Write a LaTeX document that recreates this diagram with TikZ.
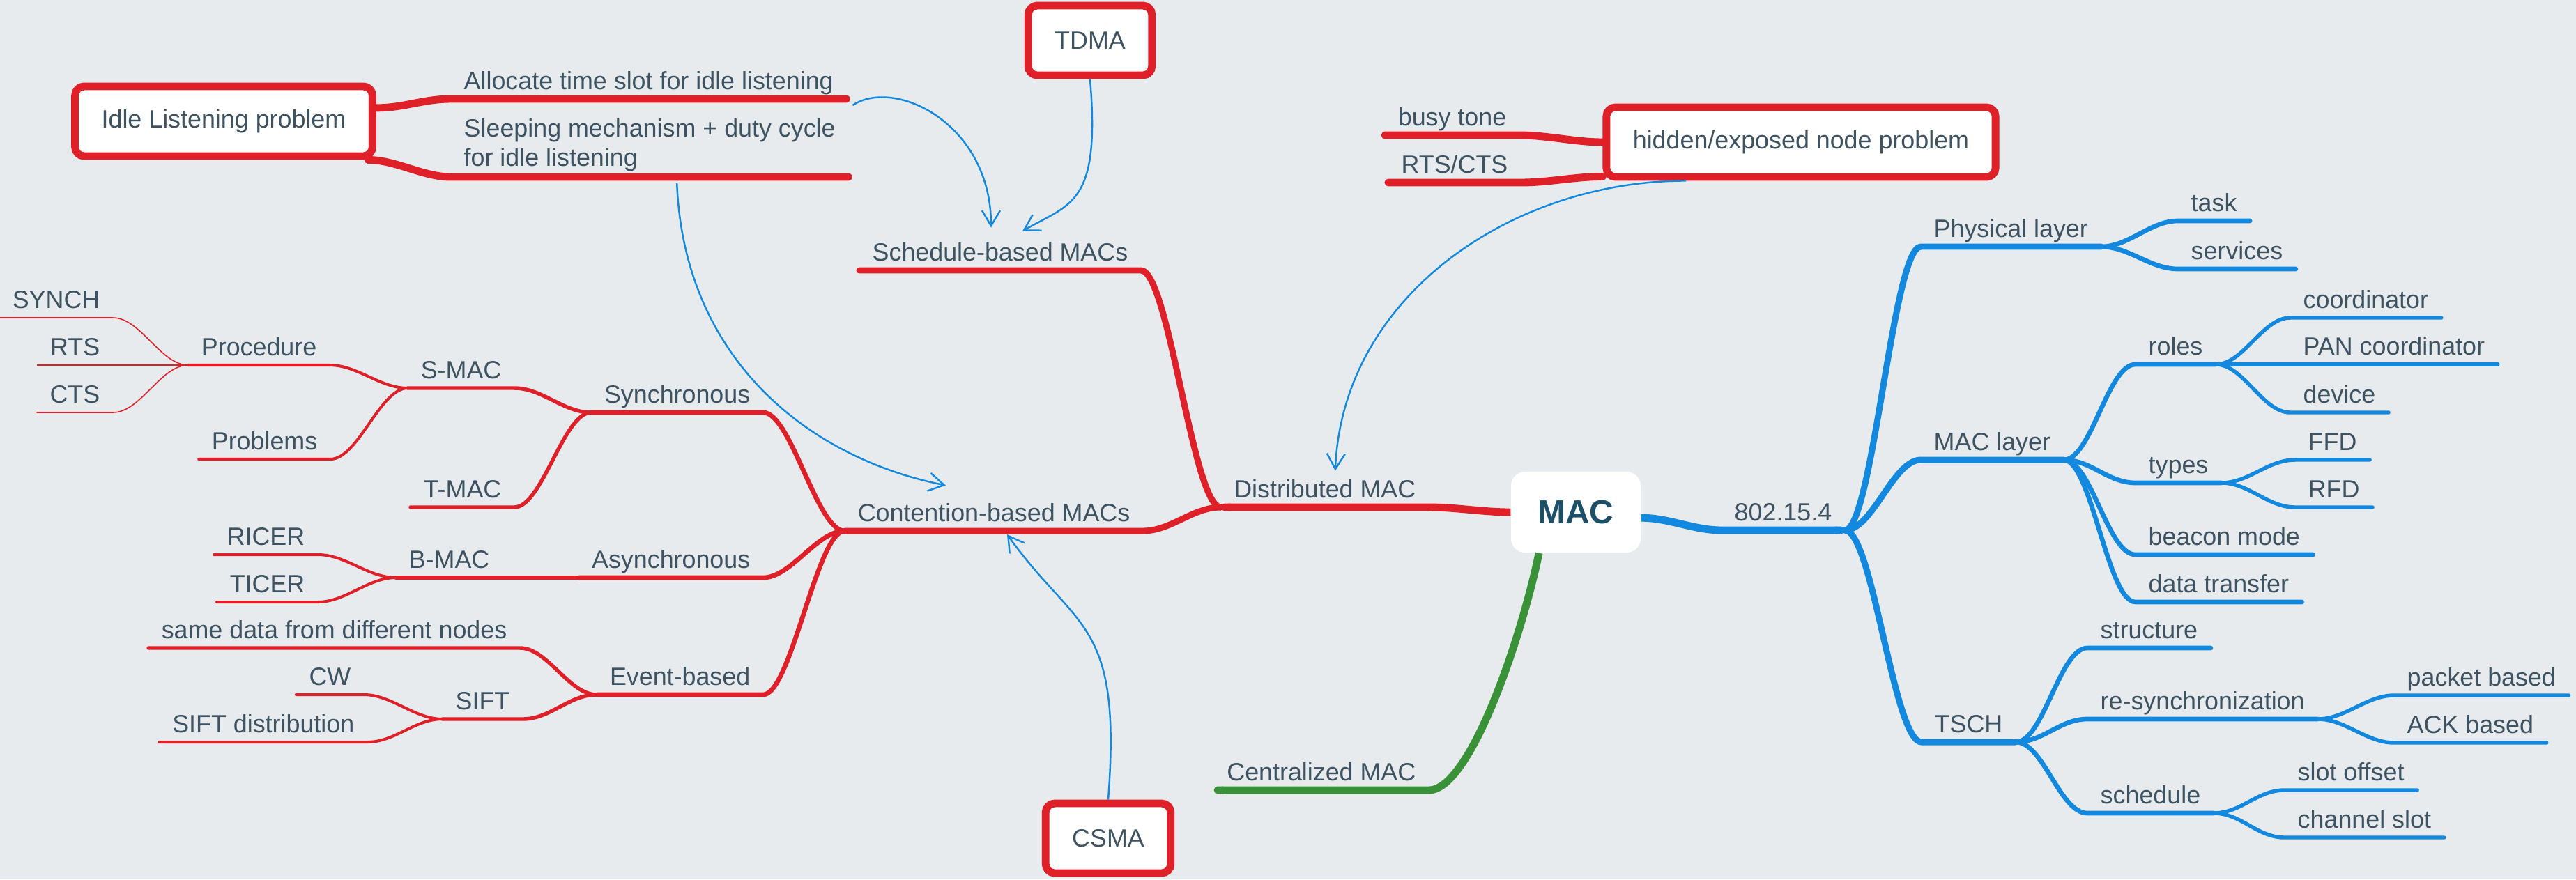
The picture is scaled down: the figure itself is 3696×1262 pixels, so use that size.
\documentclass[tikz,border=0pt]{standalone}
\usepackage{fontspec}
\setmainfont{Liberation Sans}
\usetikzlibrary{arrows.meta}

\definecolor{bgcol}{HTML}{E7EBEE}
\definecolor{txtcol}{HTML}{3E5361}
\definecolor{maccol}{HTML}{1B5068}
\definecolor{redcol}{HTML}{DF2029}
\definecolor{bluecol}{HTML}{1289DE}
\definecolor{greencol}{HTML}{3A9238}

\tikzset{
	topic/.style = {font=\fontsize{10.2}{12}\selectfont, text=txtcol,
		inner xsep=1.8mm, inner ysep=0.4mm, text height=2.6mm, text depth=0.9mm},
	ltopic/.style = {topic, anchor=south east},
	rtopic/.style = {topic, anchor=south west},
	multi/.style = {font=\fontsize{10.2}{12}\selectfont, text=txtcol,
		inner xsep=1.8mm, inner ysep=0.7mm, align=left, anchor=south west},
	probbox/.style = {draw=redcol, line width=3.1pt, fill=white, rounded corners=1.3mm,
		inner xsep=3.8mm, minimum height=10mm, font=\fontsize{10.2}{12}\selectfont, text=txtcol},
	macbox/.style = {fill=white, rounded corners=2mm, minimum width=18.6mm,
		minimum height=11.6mm, font=\bfseries\fontsize{13.6}{16}\selectfont, text=maccol},
	rlink/.style = {to path={.. controls +(40,0) and +(-40,0) .. (\tikztotarget)}},
	llink/.style = {to path={.. controls +(-40,0) and +(40,0) .. (\tikztotarget)}},
	rd/.style = {draw=redcol, line cap=round},
	bl/.style = {draw=bluecol, line cap=round},
	gr/.style = {draw=greencol, line cap=round},
	lw1/.style = {line width=3.1pt},
	lw2/.style = {line width=2.55pt},
	lw3/.style = {line width=1.9pt},
	lw4/.style = {line width=1.55pt},
	lw5/.style = {line width=1.15pt},
	lw6/.style = {line width=0.45pt},
	rel/.style = {draw=bluecol, line width=0.7pt, -{Straight Barb[length=2.2mm,width=2.6mm]}}
}

\begin{document}
\begin{tikzpicture}[x=0.1mm, y=-0.1mm]
% canvas
\fill[bgcol] (0,0) rectangle (3696,1262);
\useasboundingbox (0,0) rectangle (3696,1262);

% central topic and problem boxes
\node[macbox] (mac) at (2261,735) {MAC};
\node[probbox] (idle) at (321,174) {Idle Listening problem};
\node[probbox] (tdma) at (1564,58) {TDMA};
\node[probbox] (csma) at (1590,1203) {CSMA};
\node[probbox] (hidden) at (2584,204) {hidden/exposed node problem};

% left side
\node[ltopic] (dist) at (2050,728) {Distributed MAC};
\node[ltopic] (centr) at (2050,1134) {Centralized MAC};
\node[ltopic] (sched) at (1637,388) {Schedule-based MACs};
\node[ltopic] (conten) at (1640,762) {Contention-based MACs};
\node[ltopic] (sync) at (1095,592) {Synchronous};
\node[ltopic] (async) at (1095,829) {Asynchronous};
\node[ltopic] (event) at (1095,997) {Event-based};
\node[ltopic] (smac) at (738,557) {S-MAC};
\node[ltopic] (tmac) at (738,728) {T-MAC};
\node[ltopic] (bmac) at (721,829) {B-MAC};
\node[ltopic] (samedata) at (746,930) {same data from different nodes};
\node[ltopic] (sift) at (750,1032) {SIFT};
\node[ltopic] (proc) at (473,524) {Procedure};
\node[ltopic] (probl) at (474,659) {Problems};
\node[ltopic] (ricer) at (456,796) {RICER};
\node[ltopic] (ticer) at (456,864) {TICER};
\node[ltopic] (cw) at (522,997) {CW};
\node[ltopic] (siftdist) at (527,1065) {SIFT distribution};
\node[ltopic] (synch) at (162,456) {SYNCH};
\node[ltopic] (rts) at (162,524) {RTS};
\node[ltopic] (cts) at (162,592) {CTS};

% problem topics
\node[rtopic] (alloc) at (647,142) {Allocate time slot for idle listening};
\node[multi] (sleep) at (647,254) {Sleeping mechanism + duty cycle\\for idle listening};
\node[ltopic] (busy) at (2180,194) {busy tone};
\node[ltopic] (rtscts) at (2182,262) {RTS/CTS};

% right side
\node[rtopic] (ieee) at (2470,761) {802.15.4};
\node[rtopic] (phy) at (2756,354) {Physical layer};
\node[rtopic] (maclay) at (2756,660) {MAC layer};
\node[rtopic] (tsch) at (2757,1065) {TSCH};
\node[rtopic] (task) at (3125,317) {task};
\node[rtopic] (serv) at (3125,386) {services};
\node[rtopic] (roles) at (3064,523) {roles};
\node[rtopic] (types) at (3064,693) {types};
\node[rtopic] (beacon) at (3064,796) {beacon mode};
\node[rtopic] (datatr) at (3064,864) {data transfer};
\node[rtopic] (coord) at (3286,456) {coordinator};
\node[rtopic] (pan) at (3286,523) {PAN coordinator};
\node[rtopic] (device) at (3286,592) {device};
\node[rtopic] (ffd) at (3293,660) {FFD};
\node[rtopic] (rfd) at (3293,728) {RFD};
\node[rtopic] (struct) at (2995,930) {structure};
\node[rtopic] (resync) at (2995,1032) {re-synchronization};
\node[rtopic] (sched2) at (2995,1167) {schedule};
\node[rtopic] (packet) at (3435,998) {packet based};
\node[rtopic] (ack) at (3435,1066) {ACK based};
\node[rtopic] (slotoff) at (3278,1134) {slot offset};
\node[rtopic] (chslot) at (3278,1202) {channel slot};

% red branches
\draw[rd, lw1, line cap=butt, -{Round Cap}] (mac.west) to[llink] (dist.south east) -- (dist.south west);
\draw[rd, lw2] (dist.south west) to[llink] (sched.south east) -- (sched.south west);
\draw[rd, lw2] (dist.south west) to[llink] (conten.south east) -- (conten.south west);
\draw[rd, lw3] (conten.south west) to[llink] (sync.south east) -- (sync.south west);
\draw[rd, lw3] (conten.south west) to[llink] (async.south east) -- (async.south west);
\draw[rd, lw3] (conten.south west) to[llink] (event.south east) -- (event.south west);
\draw[rd, lw4] (sync.south west) to[llink] (smac.south east) -- (smac.south west);
\draw[rd, lw4] (sync.south west) to[llink] (tmac.south east) -- (tmac.south west);
\draw[rd, lw4] (async.south west) to[llink] (bmac.south east) -- (bmac.south west);
\draw[rd, lw4] (event.south west) to[llink] (samedata.south east) -- (samedata.south west);
\draw[rd, lw4] (event.south west) to[llink] (sift.south east) -- (sift.south west);
\draw[rd, lw5] (smac.south west) to[llink] (proc.south east) -- (proc.south west);
\draw[rd, lw5] (smac.south west) to[llink] (probl.south east) -- (probl.south west);
\draw[rd, lw5] (bmac.south west) to[llink] (ricer.south east) -- (ricer.south west);
\draw[rd, lw5] (bmac.south west) to[llink] (ticer.south east) -- (ticer.south west);
\draw[rd, lw5] (sift.south west) to[llink] (cw.south east) -- (cw.south west);
\draw[rd, lw5] (sift.south west) to[llink] (siftdist.south east) -- (siftdist.south west);
\draw[rd, lw6] (proc.south west) to[llink] (synch.south east) -- (synch.south west);
\draw[rd, lw6] (proc.south west) to[llink] (rts.south east) -- (rts.south west);
\draw[rd, lw6] (proc.south west) to[llink] (cts.south east) -- (cts.south west);

% problem branches
\draw[rd, lw1] (idle.5) to[rlink] (alloc.south west) -- (alloc.south east);
\draw[rd, lw1] (idle.-15) to[rlink] (sleep.south west) -- (sleep.south east);
\draw[rd, lw1] (hidden.west) to[llink] (busy.south east) -- (busy.south west);
\draw[rd, lw1] ([yshift=0.6mm]hidden.south west) to[llink] (rtscts.south east) -- (rtscts.south west);

% green branch
\draw[gr, lw1, line cap=butt, -{Round Cap}] (mac.228) .. controls +(-25,120) and +(60,0) .. (centr.south east) -- (centr.south west);

% blue branches
\draw[bl, lw1, line cap=butt, -{Round Cap}] (mac.-5) to[rlink] (ieee.south west) -- (ieee.south east);
\draw[bl, lw2] (ieee.south east) to[rlink] (phy.south west) -- (phy.south east);
\draw[bl, lw2] (ieee.south east) to[rlink] (maclay.south west) -- (maclay.south east);
\draw[bl, lw2] (ieee.south east) to[rlink] (tsch.south west) -- (tsch.south east);
\draw[bl, lw3] (phy.south east) to[rlink] (task.south west) -- (task.south east);
\draw[bl, lw3] (phy.south east) to[rlink] (serv.south west) -- (serv.south east);
\draw[bl, lw3] (maclay.south east) to[rlink] (roles.south west) -- (roles.south east);
\draw[bl, lw3] (maclay.south east) to[rlink] (types.south west) -- (types.south east);
\draw[bl, lw3] (maclay.south east) to[rlink] (beacon.south west) -- (beacon.south east);
\draw[bl, lw3] (maclay.south east) to[rlink] (datatr.south west) -- (datatr.south east);
\draw[bl, lw4] (roles.south east) to[rlink] (coord.south west) -- (coord.south east);
\draw[bl, lw4] (roles.south east) to[rlink] (pan.south west) -- (pan.south east);
\draw[bl, lw4] (roles.south east) to[rlink] (device.south west) -- (device.south east);
\draw[bl, lw4] (types.south east) to[rlink] (ffd.south west) -- (ffd.south east);
\draw[bl, lw4] (types.south east) to[rlink] (rfd.south west) -- (rfd.south east);
\draw[bl, lw3] (tsch.south east) to[rlink] (struct.south west) -- (struct.south east);
\draw[bl, lw3] (tsch.south east) to[rlink] (resync.south west) -- (resync.south east);
\draw[bl, lw3] (tsch.south east) to[rlink] (sched2.south west) -- (sched2.south east);
\draw[bl, lw4] (resync.south east) to[rlink] (packet.south west) -- (packet.south east);
\draw[bl, lw4] (resync.south east) to[rlink] (ack.south west) -- (ack.south east);
\draw[bl, lw4] (sched2.south east) to[rlink] (slotoff.south west) -- (slotoff.south east);
\draw[bl, lw4] (sched2.south east) to[rlink] (chslot.south west) -- (chslot.south east);

% relations
\draw[rel] ([xshift=0.9mm,yshift=-0.9mm]alloc.south east) .. controls +(60,-40) and +(0,-150) .. ([xshift=-1.3mm,yshift=1.7mm]sched.north);
\draw[rel] (tdma.south) .. controls +(15,180) and +(70,-40) .. ([xshift=3.2mm,yshift=1.2mm]sched.north);
\draw[rel] ([xshift=3.9mm,yshift=-0.9mm]sleep.south) .. controls +(10,250) and +(-200,-40) .. ([xshift=-6.9mm,yshift=2.1mm]conten.north);
\draw[rel] (csma.north) .. controls +(20,-260) and +(100,140) .. ([xshift=1.9mm,yshift=-0.5mm]conten.south);
\draw[rel] ([xshift=-16.5mm]hidden.south) .. controls +(-250,0) and +(10,-250) .. ([xshift=1.5mm,yshift=0.8mm]dist.north);
\end{tikzpicture}
\end{document}
